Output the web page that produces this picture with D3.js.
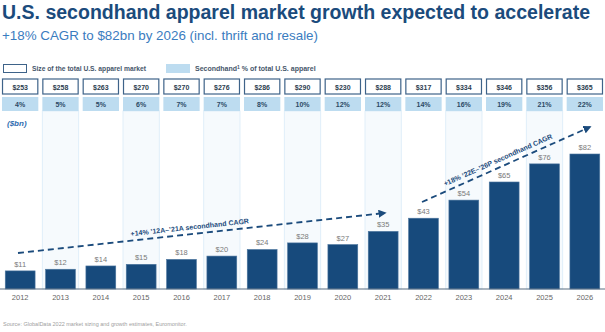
<!DOCTYPE html>
<html>
<head>
<meta charset="utf-8">
<script src="https://cdn.jsdelivr.net/npm/d3@7"></script>
<style>
  body { margin: 0; background: #fff; }
  svg { display: block; font-family: "Liberation Sans", Arial, sans-serif; }
</style>
</head>
<body>
<script>
var width = 605,
    height = 332;

// data
var years = ["2012","2013","2014","2015","2016","2017","2018","2019","2020","2021","2022","2023","2024","2025","2026"];
var marketSize = [253, 258, 263, 270, 270, 276, 286, 290, 230, 288, 317, 334, 346, 356, 365];
var sharePct = [4, 5, 5, 6, 7, 7, 8, 10, 12, 12, 14, 16, 19, 21, 22];
var secondhand = [11, 12, 14, 15, 18, 20, 24, 28, 27, 35, 43, 54, 65, 76, 82];

var rows = years.map(function(y, i){
  return { year: y, market: marketSize[i], pct: sharePct[i], value: secondhand[i], i: i };
});

var svg = d3.select("body").append("svg").attr("width", width).attr("height", height);

var x = d3.scaleBand().domain(years).range([0, width]);
var y = d3.scaleLinear().domain([0, 82]).range([289, 154]);

var boxW = x.step() * 0.9,
    barW = x.step() * 0.74;

function cx(d){ return x(d.year) + x.bandwidth() / 2; }

// title + subtitle
svg.append("text")
    .attr("x", 2).attr("y", 19)
    .attr("font-size", 19.5).attr("font-weight", "bold")
    .attr("fill", "#1b4b7c")
    .attr("textLength", 588).attr("lengthAdjust", "spacingAndGlyphs")
    .text("U.S. secondhand apparel market growth expected to accelerate");

svg.append("text")
    .attr("x", 2).attr("y", 40)
    .attr("font-size", 13).attr("fill", "#3a7cc0")
    .attr("textLength", 316).attr("lengthAdjust", "spacingAndGlyphs")
    .text("+18% CAGR to $82bn by 2026 (incl. thrift and resale)");

// legend
var legend = svg.append("g").attr("font-size", 7).attr("font-weight", "bold").attr("fill", "#46566a");
legend.append("rect").attr("x", 3.5).attr("y", 64.5).attr("width", 23).attr("height", 8)
    .attr("fill", "#fff").attr("stroke", "#3e6389").attr("stroke-width", 1);
legend.append("text").attr("x", 32).attr("y", 71)
    .attr("textLength", 114).attr("lengthAdjust", "spacingAndGlyphs")
    .text("Size of the total U.S. apparel market");
legend.append("rect").attr("x", 166).attr("y", 64).attr("width", 24).attr("height", 9)
    .attr("fill", "#bddcf0");
var lt = legend.append("text").attr("x", 195).attr("y", 71);
lt.append("tspan").text("Secondhand");
lt.append("tspan").attr("font-size", 5).attr("dy", -2.5).text("1");
lt.append("tspan").attr("dy", 2.5).text(" % of total U.S. apparel");

// alternating column backgrounds
svg.append("g").selectAll("rect")
    .data(rows.filter(function(d){ return d.i % 2 === 1; }))
  .enter().append("rect")
    .attr("x", function(d){ return cx(d) - boxW / 2; })
    .attr("y", 111)
    .attr("width", boxW)
    .attr("height", 289 - 111)
    .attr("fill", "#f6fafd")
    .attr("stroke", "#e0eef9")
    .attr("stroke-width", 1);

// market size boxes
var header = svg.append("g");
header.selectAll(".mbox")
    .data(rows)
  .enter().append("rect")
    .attr("class", "mbox")
    .attr("x", function(d){ return cx(d) - boxW / 2 + 0.5; })
    .attr("y", 79)
    .attr("width", boxW - 1)
    .attr("height", 15)
    .attr("fill", "#fff")
    .attr("stroke", "#3e6389")
    .attr("stroke-width", 1.2);

header.selectAll(".mlab")
    .data(rows)
  .enter().append("text")
    .attr("class", "mlab")
    .attr("x", cx)
    .attr("y", 89.5)
    .attr("text-anchor", "middle")
    .attr("font-size", 7).attr("font-weight", "bold")
    .attr("fill", "#2c3e50")
    .text(function(d){ return "$" + d.market; });

// share boxes
header.selectAll(".pbox")
    .data(rows)
  .enter().append("rect")
    .attr("class", "pbox")
    .attr("x", function(d){ return cx(d) - boxW / 2; })
    .attr("y", 97)
    .attr("width", boxW)
    .attr("height", 14)
    .attr("fill", "#bddcf0");

header.selectAll(".plab")
    .data(rows)
  .enter().append("text")
    .attr("class", "plab")
    .attr("x", cx)
    .attr("y", 106.5)
    .attr("text-anchor", "middle")
    .attr("font-size", 7).attr("font-weight", "bold")
    .attr("fill", "#2c4a66")
    .text(function(d){ return d.pct + "%"; });

// ($bn)
svg.append("text")
    .attr("x", 7).attr("y", 126)
    .attr("font-size", 8).attr("font-weight", "bold").attr("font-style", "italic")
    .attr("fill", "#2e6db0")
    .text("($bn)");

// bars
svg.append("g").selectAll("rect")
    .data(rows)
  .enter().append("rect")
    .attr("x", function(d){ return cx(d) - barW / 2; })
    .attr("y", function(d){ return y(d.value); })
    .attr("width", barW)
    .attr("height", function(d){ return y(0) - y(d.value); })
    .attr("fill", "#174a7c")
    .attr("stroke", "#4e77a0")
    .attr("stroke-width", 0.6);

svg.append("g").selectAll("text")
    .data(rows)
  .enter().append("text")
    .attr("x", cx)
    .attr("y", function(d){ return y(d.value) - 4; })
    .attr("text-anchor", "middle")
    .attr("font-size", 7.5)
    .attr("fill", "#7a7a7a")
    .text(function(d){ return "$" + d.value; });

// axis
var axis = svg.append("g")
    .attr("transform", "translate(0,289)")
    .call(d3.axisBottom(x).tickSize(0).tickPadding(6));
axis.select(".domain").attr("stroke", "#5b6f82").attr("stroke-width", 1.2).attr("d", "M0,0H" + width);
axis.selectAll("text").attr("font-size", 7.5).attr("fill", "#666")
    .attr("font-family", "Liberation Sans, Arial, sans-serif");

// CAGR arrows
var defs = svg.append("defs");
defs.append("marker")
    .attr("id", "arrow")
    .attr("viewBox", "0 0 10 10")
    .attr("refX", 8).attr("refY", 5)
    .attr("markerWidth", 4.5).attr("markerHeight", 4.5)
    .attr("orient", "auto")
  .append("path")
    .attr("d", "M0,0L10,5L0,10Z")
    .attr("fill", "#1b4b7c");

var cagr = [
  { from: [18, 253], to: [385, 213], label: "+14% \u201912A\u2013\u201921A secondhand CAGR", at: 0.47, off: -4.5 },
  { from: [422, 202], to: [590, 127], label: "+18% \u201922E\u2013\u201926P secondhand CAGR", at: 0.47, off: -5 }
];

cagr.forEach(function(c){
  svg.append("line")
      .attr("x1", c.from[0]).attr("y1", c.from[1])
      .attr("x2", c.to[0]).attr("y2", c.to[1])
      .attr("stroke", "#1b4b7c")
      .attr("stroke-width", 1.8)
      .attr("stroke-dasharray", "6,4")
      .attr("marker-end", "url(#arrow)");

  var ang = Math.atan2(c.to[1] - c.from[1], c.to[0] - c.from[0]) * 180 / Math.PI;
  var mx = c.from[0] + (c.to[0] - c.from[0]) * c.at,
      my = c.from[1] + (c.to[1] - c.from[1]) * c.at;
  svg.append("text")
      .attr("transform", "translate(" + mx + "," + my + ") rotate(" + ang + ") translate(0," + c.off + ")")
      .attr("text-anchor", "middle")
      .attr("font-size", 7).attr("font-weight", "bold")
      .attr("fill", "#1b4b7c")
      .text(c.label);
});

// source
svg.append("text")
    .attr("x", 3).attr("y", 326)
    .attr("font-size", 5.5)
    .attr("fill", "#a0a0a0")
    .text("Source: GlobalData 2022 market sizing and growth estimates, Euromonitor.");
</script>
</body>
</html>
